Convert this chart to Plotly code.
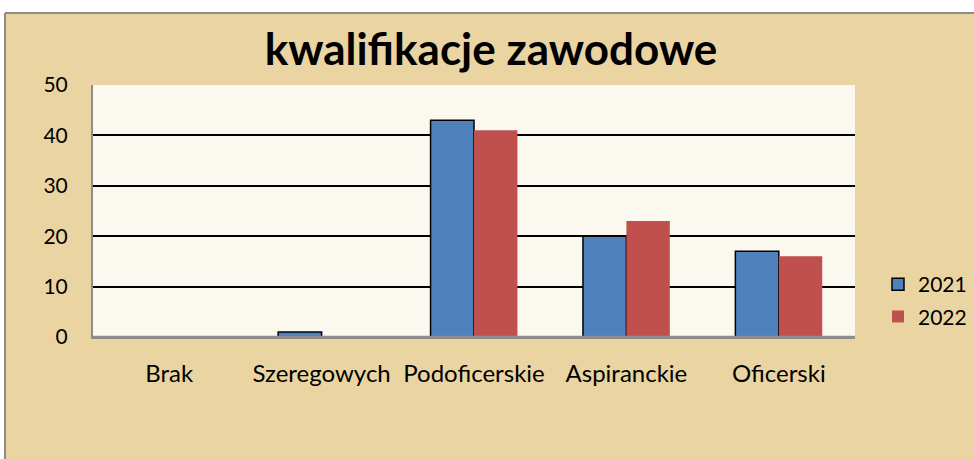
import plotly.graph_objects as go

categories = ["Brak", "Szeregowych", "Podoficerskie", "Aspiranckie", "Oficerski"]
values_2021 = [0, 1, 43, 20, 17]
values_2022 = [0, 0, 41, 23, 16]
series_names = ["2021", "2022"]
y_ticks = [0, 10, 20, 30, 40, 50]

FONT = "Lato"
W, H = 974, 459
L, R, T, B = 93, 119, 85, 122
pw, ph = W - L - R, H - T - B

def px_x(x):
    return (x - L) / pw

def px_y(y):
    return (H - B - y) / ph

fig = go.Figure()
fig.add_trace(go.Bar(x=categories, y=values_2021, name=series_names[0], legendgroup="a",
                     marker=dict(color="#4F81BD", line=dict(color="#000000", width=1.5))))
fig.add_trace(go.Bar(x=categories, y=values_2022, name=series_names[1], legendgroup="b",
                     marker=dict(color="#C0504D", line=dict(color="#C0504D", width=0))))

shapes = [
    dict(type="rect", xref="paper", yref="paper", x0=px_x(-10), x1=px_x(W + 10), y0=px_y(13), y1=px_y(-10),
         fillcolor="#FFFFFF", line=dict(width=0), layer="below"),
    dict(type="rect", xref="paper", yref="paper", x0=px_x(-10), x1=px_x(5), y0=px_y(H + 10), y1=px_y(13),
         fillcolor="#FFFFFF", line=dict(width=0), layer="below"),
    dict(type="line", xref="paper", yref="paper", x0=px_x(5), x1=px_x(W + 10), y0=px_y(13), y1=px_y(13),
         line=dict(color="#8C8C8C", width=2)),
    dict(type="line", xref="paper", yref="paper", x0=px_x(5), x1=px_x(5), y0=px_y(13), y1=px_y(H + 10),
         line=dict(color="#8C8C8C", width=2)),
    # category axis line redrawn above the bar outlines
    dict(type="line", xref="paper", yref="y", x0=0, x1=1, y0=0, y1=0,
         line=dict(color="#8C8C8C", width=2.5), layer="above"),
]

fig.update_layout(
    width=W, height=H,
    margin=dict(l=L, r=R, t=T, b=B, pad=0),
    paper_bgcolor="#EAD5A2",
    plot_bgcolor="#FBF8F0",
    barmode="group", bargap=0.43, bargroupgap=0,
    shapes=shapes,
    title=dict(text="<b>kwalifikacje zawodowe</b>", x=491 / W, xanchor="center",
               y=1 - 50 / H, yanchor="middle",
               font=dict(family=FONT, size=44, color="#000000")),
    font=dict(family=FONT, size=21, color="#000000"),
    legend=dict(xref="container", yref="container", x=878 / W, y=1 - 264 / H,
                xanchor="left", yanchor="top",
                bgcolor="rgba(0,0,0,0)", font=dict(size=21),
                itemwidth=30, tracegroupgap=2),
    showlegend=True,
)
fig.update_yaxes(range=[0, 50], tickvals=y_ticks, showgrid=True, gridcolor="#000000", gridwidth=2,
                 showline=True, linecolor="#8C8C8C", linewidth=2, zeroline=False,
                 ticks="", ticklabelstandoff=19, tickfont=dict(size=21))
fig.update_xaxes(showline=True, linecolor="#8C8C8C", linewidth=2, ticks="",
                 tickfont=dict(size=24), ticklabelstandoff=14)

fig.write_html("out.html", config={"displayModeBar": False},
               post_script="document.body.style.margin='0';")
